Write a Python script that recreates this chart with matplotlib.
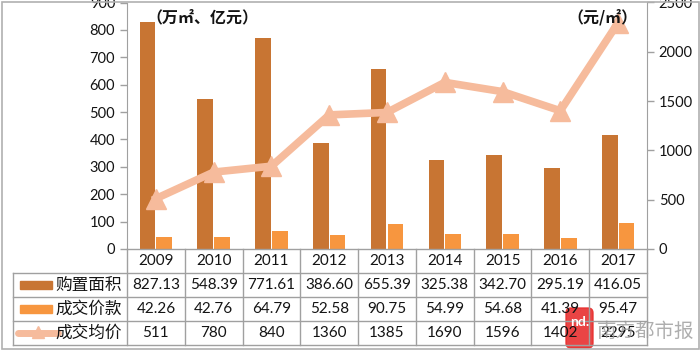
import matplotlib
matplotlib.use("Agg")
import matplotlib.pyplot as plt
from matplotlib.patches import Rectangle, FancyBboxPatch

plt.rcParams['font.family'] = ['Lato', 'Noto Sans CJK SC', 'DejaVu Sans']

years = ['2009', '2010', '2011', '2012', '2013', '2014', '2015', '2016', '2017']
area = [827.13, 548.39, 771.61, 386.60, 655.39, 325.38, 342.70, 295.19, 416.05]
amount = [42.26, 42.76, 64.79, 52.58, 90.75, 54.99, 54.68, 41.39, 95.47]
price = [511, 780, 840, 1360, 1385, 1690, 1596, 1402, 2295]
series_names = ['购置面积', '成交价款', '成交均价']

c_area = '#C87533'
c_amount = '#F7963F'
c_price = '#F6BB9C'
grid_c = '#A0A0A0'
txt_c = '#141414'

W, H = 700, 350
fig = plt.figure(figsize=(7, 3.5), dpi=100)
fig.patch.set_facecolor('white')

L, R, B, T = 127, 647, 249, 2.5
ax = fig.add_axes([L / W, (H - B) / H, (R - L) / W, (B - T) / H])
x = list(range(len(years)))
bw = 0.27
ax.bar([i - 0.145 for i in x], area, width=bw, color=c_area, zorder=2)
ax.bar([i + 0.145 for i in x], amount, width=bw, color=c_amount, zorder=2)
ax.set_xlim(-0.5, len(years) - 0.5)
ax.set_ylim(0, 900)
ax.set_yticks(range(0, 901, 100))
ax.set_xticks([])
for s in ['top', 'bottom', 'right']:
    ax.spines[s].set_visible(False)
ax.spines['left'].set_color(grid_c)
ax.tick_params(axis='y', colors=grid_c, labelcolor=txt_c, labelsize=10.5, length=5, width=1)
ax.set_facecolor('none')

ax2 = ax.twinx()
ax2.plot(x, price, color=c_price, lw=5.5, marker='^', markersize=14, zorder=3,
         solid_joinstyle='miter')
ax2.set_ylim(0, 2500)
ax2.set_yticks(range(0, 2501, 500))
for s in ['top', 'bottom', 'left']:
    ax2.spines[s].set_visible(False)
ax2.spines['right'].set_color(grid_c)
ax2.tick_params(axis='y', colors=grid_c, labelcolor=txt_c, labelsize=10.5, length=5, width=1)

fig.text(146 / W, 1 - 17 / H, '（万㎡、亿元）', fontsize=11.5, fontweight='bold',
         family=['Noto Sans CJK SC'], ha='left', va='center', color=txt_c)
fig.text(638 / W, 1 - 17 / H, '（元/㎡）', fontsize=11.5, fontweight='bold',
         family=['Noto Sans CJK SC'], ha='right', va='center', color=txt_c)

# table overlay
ov = fig.add_axes([0, 0, 1, 1])
ov.set_xlim(0, W)
ov.set_ylim(H, 0)
ov.axis('off')
ov.set_facecolor('none')

n = len(years)
cw = (R - L) / n
rows = [249, 273, 297, 321, 345]
tl = 13
lk = dict(color=grid_c, lw=1)
ov.plot([L, R], [rows[0], rows[0]], **lk)
for r in rows[1:]:
    ov.plot([tl, R], [r, r], **lk)
ov.plot([tl, tl], [rows[1], rows[-1]], **lk)
for i in range(n + 1):
    xx = L + i * cw
    ov.plot([xx, xx], [rows[0], rows[-1]], **lk)

fs = 11
for i in range(n):
    cx = L + (i + 0.5) * cw
    ov.text(cx, (rows[0] + rows[1]) / 2, years[i], ha='center', va='center', fontsize=fs, color=txt_c)
    ov.text(cx, (rows[1] + rows[2]) / 2, f'{area[i]:.2f}', ha='center', va='center', fontsize=fs, color=txt_c)
    ov.text(cx, (rows[2] + rows[3]) / 2, f'{amount[i]:.2f}', ha='center', va='center', fontsize=fs, color=txt_c)
    ov.text(cx, (rows[3] + rows[4]) / 2, f'{price[i]:d}', ha='center', va='center', fontsize=fs, color=txt_c)

for k, name in enumerate(series_names):
    cy = (rows[k + 1] + rows[k + 2]) / 2
    ov.text(122, cy, name, ha='right', va='center', fontsize=12,
            family=['Noto Sans CJK SC'], color=txt_c)
ov.add_patch(Rectangle((20, (rows[1] + rows[2]) / 2 - 4), 32, 8, color=c_area))
ov.add_patch(Rectangle((20, (rows[2] + rows[3]) / 2 - 4), 32, 8, color=c_amount))
cy3 = (rows[3] + rows[4]) / 2
ov.plot([18, 58], [cy3, cy3], color=c_price, lw=5, solid_capstyle='round')
ov.plot([38], [cy3 - 1], marker='^', color=c_price, markersize=9)

# watermark
ov.add_patch(FancyBboxPatch((566, 308), 27, 40, boxstyle='round,pad=0,rounding_size=5',
                            color='#E8302F', alpha=0.9))
ov.text(579.5, 322, 'nd.', color='white', fontsize=10, ha='center', va='center', fontweight='bold')
ov.text(646, 331, '南方都市报', color='#9A9A9A', fontsize=14, ha='center', va='center',
        family=['Noto Sans CJK SC'], alpha=0.8)

# outer frame
ov.add_patch(Rectangle((1.5, 1.5), W - 3, H - 3, fill=False, edgecolor='#B0B0B0', lw=1.2))

fig.savefig('out.png', dpi=100)
